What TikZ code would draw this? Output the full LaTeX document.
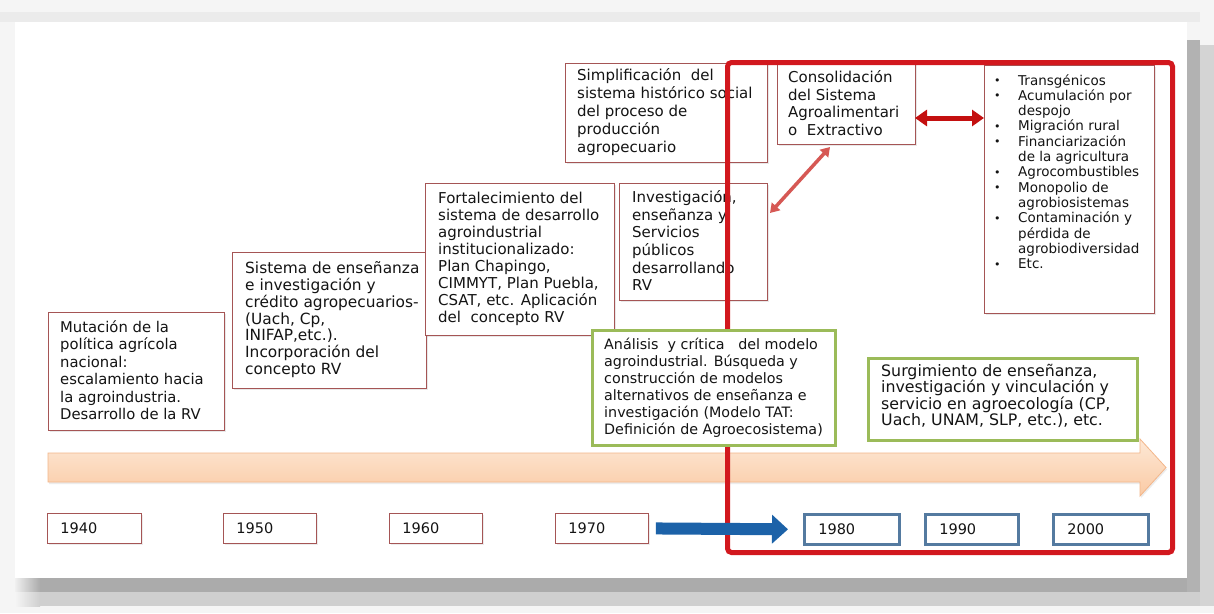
\documentclass[tikz,border=0pt]{standalone}
\usepackage{fontspec}
\setmainfont{DejaVu Sans}
\usetikzlibrary{arrows.meta,shadows,calc}
\definecolor{boxred}{RGB}{165,85,85}
\definecolor{framered}{RGB}{210,24,30}
\definecolor{arrred}{RGB}{196,16,16}
\definecolor{diagred}{RGB}{214,88,84}
\definecolor{grn}{RGB}{155,187,89}
\definecolor{yrblue}{RGB}{84,122,160}
\definecolor{arrblue}{RGB}{28,98,168}
\definecolor{ortop}{RGB}{253,232,214}
\definecolor{orbot}{RGB}{250,202,164}
\definecolor{orline}{RGB}{243,182,138}
\definecolor{txtc}{RGB}{20,20,20}
\newcommand\itm{\makebox[24pt][l]{\raisebox{0.5pt}{\fontsize{11}{11}\selectfont •}}}
\newcommand\cnt{\hspace*{24pt}}
\begin{document}
\begin{tikzpicture}[x=1pt,y=-1pt,
  rbox/.style={draw=boxred, line width=0.9pt, fill=white, anchor=north west, inner sep=0pt, outer sep=0pt,
    drop shadow={shadow xshift=1.5pt, shadow yshift=-1.5pt, opacity=0.18}},
  gbox/.style={draw=grn, line width=3pt, fill=white, anchor=north west, inner sep=0pt, outer sep=0pt,
    drop shadow={shadow xshift=1.5pt, shadow yshift=-1.5pt, opacity=0.18}},
  txtn/.style={anchor=north west, inner sep=0pt, align=left, text=txtc, font={\fontsize{15}{17.4}\selectfont}},
  ybox/.style={draw=boxred, line width=0.9pt, fill=white, anchor=north west, inner xsep=13pt, inner ysep=0pt,
    minimum height=30, align=left, text=txtc, font={\fontsize{14.5}{16}\selectfont},
    drop shadow={shadow xshift=1.2pt, shadow yshift=-1.2pt, opacity=0.15}},
  bbox/.style={ybox, draw=yrblue, line width=2.6pt},
  dbl/.style={{Triangle[length=12pt,width=16pt]}-{Triangle[length=12pt,width=16pt]}}
]
\useasboundingbox (0,0) rectangle (1214,613);
% page background and slide shadow
\fill[black!4] (0,0) rectangle (1214,613);
\fill[black!8] (0,12) rectangle (1200,22);
\fill[black!33] (40,578) rectangle (1187,592);
\shade[left color=black!6, right color=black!33] (15,578) rectangle (40,592);
\fill[black!19] (40,592) rectangle (1200,606);
\shade[left color=black!4, right color=black!19] (15,592) rectangle (40,606);
\fill[black!30] (1187,40) rectangle (1200,592);
\fill[black!17] (1200,45) rectangle (1214,606);
\fill[white] (15,22) rectangle (1187,578);

% timeline arrow
\path[top color=ortop, bottom color=orbot, draw=orline, line width=0.8pt,
  drop shadow={shadow xshift=1pt, shadow yshift=-2pt, opacity=0.15}]
  (48,453) -- (1140,453) -- (1140,439) -- (1166,467.5) -- (1140,496) -- (1140,482) -- (48,482) -- cycle;

% red boxes
\node[rbox, minimum width=176, minimum height=118] (b40) at (48,312) {};
\node[txtn, font={\fontsize{14.8}{17.4}\selectfont}] (b40t) at (60,320.5) {Mutación de la\\política agrícola\\nacional:\\escalamiento hacia\\la agroindustria.\\Desarrollo de la RV};

\node[rbox, minimum width=194, minimum height=136] (b50) at (232,252) {};
\node[txtn, font={\fontsize{15.4}{16.8}\selectfont}] (b50t) at (245,261.5) {Sistema de enseñanza\\e investigación y\\crédito agropecuarios-\\(Uach, Cp,\\INIFAP,etc.).\\Incorporación del\\concepto RV};

\node[rbox, minimum width=189, minimum height=152] (b60) at (425,183) {};
\node[txtn, font={\fontsize{15}{17}\selectfont}] (b60t) at (438,191.5) {Fortalecimiento del\\sistema de desarrollo\\agroindustrial\\institucionalizado:\\Plan Chapingo,\\CIMMYT, Plan Puebla,\\CSAT, etc. Aplicación\\del~ concepto RV};

\node[rbox, minimum width=202, minimum height=99] (bS) at (565,63) {};
\node[txtn, font={\fontsize{15}{18}\selectfont}] (bSt) at (577,68.5) {Simplificación~ del\\sistema histórico social\\del proceso de\\producción\\agropecuario};

\node[rbox, minimum width=148, minimum height=117] (bI) at (619,183) {};
\node[txtn, font={\fontsize{15}{17.6}\selectfont}] (bIt) at (632,190.5) {Investigación,\\enseñanza y\\Servicios\\públicos\\desarrollando\\RV};

\node[rbox, minimum width=138, minimum height=81] (bC) at (777,63) {};
\node[txtn, font={\fontsize{15}{17.5}\selectfont}] (bCt) at (788,70.5) {Consolidación\\del Sistema\\Agroalimentari\\o~ Extractivo};

\node[rbox, minimum width=170, minimum height=248] (bL) at (984,65) {};
\node[txtn, font={\fontsize{13.5}{15.3}\selectfont}] (bLt) at (994,74) {\itm Transgénicos\\\itm Acumulación por\\\cnt despojo\\\itm Migración rural\\\itm Financiarización\\\cnt de la agricultura\\\itm Agrocombustibles\\\itm Monopolio de\\\cnt agrobiosistemas\\\itm Contaminación y\\\cnt pérdida de\\\cnt agrobiodiversidad\\\itm Etc.};

% year boxes
\node[ybox, minimum width=94, text width=68] (y40) at (47,513) {1940};
\node[ybox, minimum width=93, text width=67] (y50) at (223,513) {1950};
\node[ybox, minimum width=93, text width=67] (y60) at (389,513) {1960};
\node[ybox, minimum width=93, text width=67] (y70) at (555,513) {1970};
\node[bbox, minimum width=95, text width=67] (y80) at (803,513) {1980};
\node[bbox, minimum width=93, text width=65] (y90) at (924,513) {1990};
\node[bbox, minimum width=95, text width=67] (y00) at (1052,513) {2000};

% red frame
\node[draw=framered, line width=5pt, rounded corners=4pt, anchor=north west, inner sep=0pt,
  minimum width=445, minimum height=490] (frame) at (725,60) {};

% green boxes
\node[gbox, minimum width=243, minimum height=115] (gA) at (592,330) {};
\node[txtn, font={\fontsize{14.3}{17}\selectfont}] (gAt) at (604,337.5) {Análisis~ y crítica~~ del modelo\\agroindustrial. Búsqueda y\\construcción de modelos\\alternativos de enseñanza e\\investigación (Modelo TAT:\\Definición de Agroecosistema)};

\node[gbox, minimum width=269, minimum height=82] (gS) at (868,358) {};
\node[txtn, font={\fontsize{15.8}{16.4}\selectfont}] (gSt) at (881,364) {Surgimiento de enseñanza,\\investigación y vinculación y\\servicio en agroecología (CP,\\Uach, UNAM, SLP, etc.), etc.};

% connectors
\draw[arrblue, line width=12pt, -{Triangle[length=16pt,width=28pt]}] ([xshift=7pt]y70.east) -- ([xshift=-15pt]y80.west);
\coordinate (dA) at ($(bC.east)+(0,14.5)$);
\draw[arrred, line width=5pt, dbl] (dA) -- (dA -| bL.west);
\coordinate (dB) at ($(bI.north east)+(3,30)$);
\coordinate (dC) at ($(bC.south)+(-16,3)$);
\draw[diagred, line width=3.5pt, {Triangle[length=9pt,width=11pt]}-{Triangle[length=9pt,width=11pt]}] (dB) -- (dC);
\end{tikzpicture}
\end{document}
